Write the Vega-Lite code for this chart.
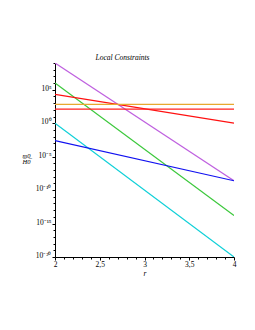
{
  "$schema": "https://vega.github.io/schema/vega-lite/v6.json",
  "autosize": "none",
  "padding": {"left": 55, "top": 63, "right": 21, "bottom": 73},
  "width": 179,
  "height": 194,
  "background": "white",
  "title": {
    "text": "Local Constraints",
    "font": "Liberation Serif",
    "fontStyle": "italic",
    "fontWeight": "normal",
    "fontSize": 7.5,
    "color": "black",
    "anchor": "middle",
    "dx": -22,
    "offset": -4
  },
  "data": {
    "values": [
      {"series": "a", "r": 2, "v": 1e9},
      {"series": "a", "r": 4, "v": 2.5e-9},
      {"series": "b", "r": 2, "v": 1e6},
      {"series": "b", "r": 4, "v": 1.6e-14},
      {"series": "c", "r": 2, "v": 2e4},
      {"series": "c", "r": 4, "v": 1.0},
      {"series": "d", "r": 2, "v": 650},
      {"series": "d", "r": 4, "v": 650},
      {"series": "e", "r": 2, "v": 130},
      {"series": "e", "r": 4, "v": 130},
      {"series": "f", "r": 2, "v": 1.0},
      {"series": "f", "r": 4, "v": 1e-20},
      {"series": "g", "r": 2, "v": 2.5e-3},
      {"series": "g", "r": 4, "v": 2.5e-9}
    ]
  },
  "mark": {"type": "line", "strokeWidth": 1.2, "clip": true},
  "encoding": {
    "x": {
      "field": "r",
      "type": "quantitative",
      "scale": {"domain": [2, 4], "nice": false, "zero": false},
      "axis": {
        "title": "r",
        "titleFont": "Liberation Serif",
        "titleFontStyle": "italic",
        "titleFontWeight": "normal",
        "titleFontSize": 7.5,
        "titleColor": "black",
        "titlePadding": 2,
        "values": [2, 2.1, 2.2, 2.3, 2.4, 2.5, 2.6, 2.7, 2.8, 2.9, 3, 3.1, 3.2, 3.3, 3.4, 3.5, 3.6, 3.7, 3.8, 3.9, 4],
        "labelExpr": "abs(round(datum.value*10) % 5) == 0 ? replace(format(datum.value, '~g'), '.', ',') : ''",
        "labelFont": "Liberation Serif",
        "labelFontSize": 7.5,
        "labelColor": "black",
        "labelPadding": 0,
        "labelFlush": false,
        "labelOverlap": false,
        "domainColor": "black",
        "domainWidth": 1,
        "tickColor": "black",
        "tickWidth": 1,
        "tickSize": {"condition": {"test": "abs(round(datum.value*10) % 5) == 0", "value": 3}, "value": 2},
        "grid": false
      }
    },
    "y": {
      "field": "v",
      "type": "quantitative",
      "scale": {"type": "log", "domain": [1e-20, 1e9], "nice": false},
      "axis": {
        "title": ["m̲0̲", "H0"],
        "titleAngle": 0,
        "titleX": -29,
        "titleY": 92,
        "titleAlign": "center",
        "titleBaseline": "middle",
        "titleLineHeight": 6.5,
        "titleFont": "Liberation Serif",
        "titleFontStyle": "italic",
        "titleFontWeight": "normal",
        "titleFontSize": 6.5,
        "titleColor": "black",
        "values": [1e-20, 1e-19, 1e-18, 1e-17, 1e-16, 1e-15, 1e-14, 1e-13, 1e-12, 1e-11, 1e-10, 1e-9, 1e-8, 1e-7, 1e-6, 1e-5, 1e-4, 1e-3, 1e-2, 1e-1, 1, 10, 100, 1e3, 1e4, 1e5, 1e6, 1e7, 1e8, 1e9],
        "labelExpr": "round(log(datum.value)/LN10) == 5 ? '10⁵' : round(log(datum.value)/LN10) == 0 ? '10⁰' : round(log(datum.value)/LN10) == -5 ? '10⁻⁵' : round(log(datum.value)/LN10) == -10 ? '10⁻¹⁰' : round(log(datum.value)/LN10) == -15 ? '10⁻¹⁵' : round(log(datum.value)/LN10) == -20 ? '10⁻²⁰' : ''",
        "labelFont": "Liberation Serif",
        "labelFontSize": 7.5,
        "labelColor": "black",
        "labelPadding": 1,
        "labelFlush": false,
        "labelOverlap": false,
        "labelBaseline": "bottom",
        "labelOffset": 2.5,
        "domainColor": "black",
        "domainWidth": 1,
        "tickColor": "black",
        "tickWidth": 1,
        "tickSize": {"condition": {"test": "abs(round(log(datum.value)/LN10) % 5) == 0", "value": 3}, "value": 2},
        "grid": false
      }
    },
    "color": {
      "field": "series",
      "type": "nominal",
      "scale": {
        "domain": ["a", "b", "c", "d", "e", "f", "g"],
        "range": ["#BF60DF", "#3CC83C", "#FF1010", "#E8A830", "#FF2020", "#10D0D8", "#1010F0"]
      },
      "legend": null
    }
  },
  "config": {"view": {"stroke": null}}
}
